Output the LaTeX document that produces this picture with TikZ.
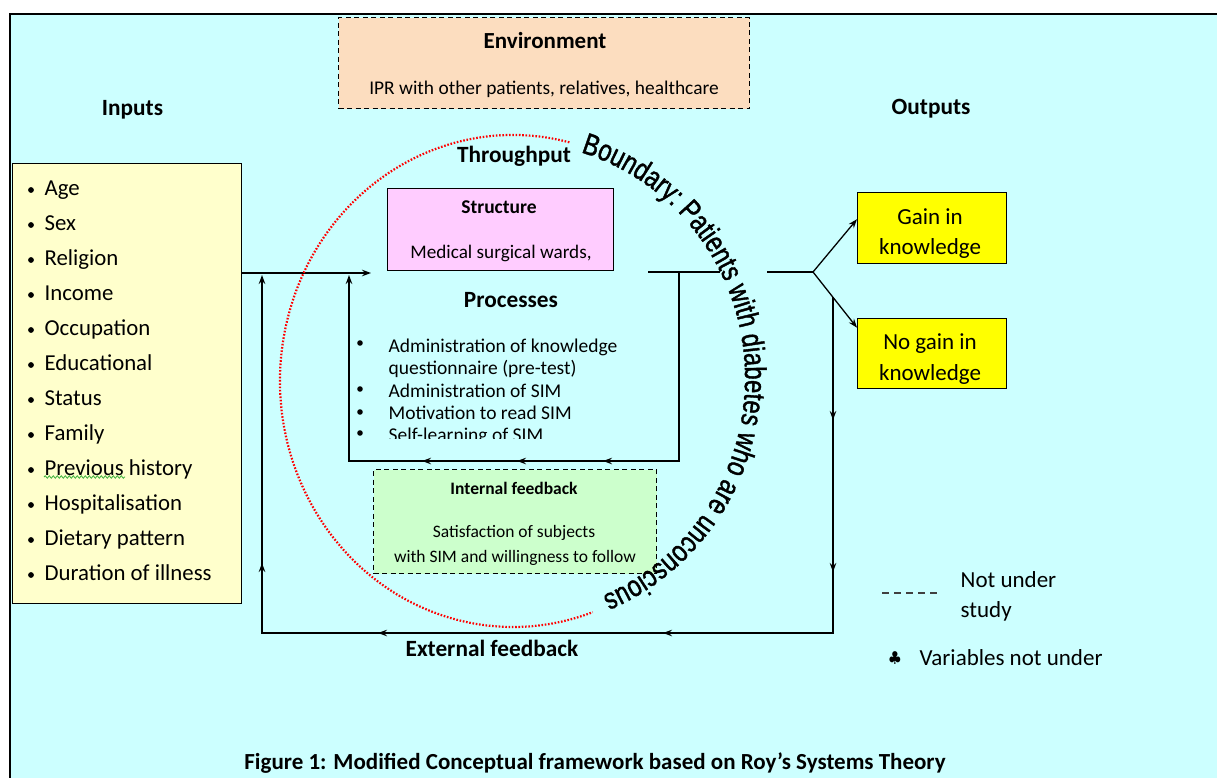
\documentclass[tikz,border=0pt]{standalone}
\usepackage{fontspec}
\setmainfont{Carlito}
\newfontfamily\boundfont[FakeStretch=0.79, FakeBold=1.3]{Liberation Sans}
\usetikzlibrary{arrows.meta,decorations.markings,decorations.text,decorations.pathmorphing}

\definecolor{bgcyan}{HTML}{CCFFFF}
\definecolor{envpeach}{HTML}{FCDDBF}
\definecolor{inyellow}{HTML}{FFFFCC}
\definecolor{structpink}{HTML}{FFCCFF}
\definecolor{fbgreen}{HTML}{CCFFCC}
\definecolor{gainyellow}{HTML}{FFFF00}
\definecolor{spellgreen}{HTML}{3DB03D}

\begin{document}
\begin{tikzpicture}[x=1pt, y=-1pt, line width=1.3pt,
    >={Stealth[length=9pt,width=6.5pt]},
    box/.style={draw, line width=1.4pt, anchor=north west, inner sep=0pt},
    dashbox/.style={box, dash pattern=on 5pt off 3.5pt},
    lbl/.style={inner sep=0pt, anchor=base, font=\fontsize{#1}{#1}\selectfont},
    blbl/.style={inner sep=0pt, anchor=base, font=\fontsize{#1}{#1}\selectfont\bfseries},
    arrowat/.style={postaction={decorate, decoration={markings,
        mark=at position #1 with {\arrow{>}}}}}]
        \useasboundingbox (0,0) rectangle (1217,778);

        % Page background and frame
        \fill[bgcyan] (10,14) rectangle (1217,778);
        \draw[line width=2pt] (10,778) -- (10,14) -- (1217,14);

        % Environment
        \node[dashbox, fill=envpeach, minimum width=411pt, minimum height=91pt] (env) at (338,17) {};
        \node[blbl=23] (envtitle) at (545,49) {Environment};
        \node[lbl=19.4] (envtext) at (544,95) {IPR with other patients, relatives, healthcare};

        % Column headings
        \node[blbl=23.3] (inputs) at (132.5,116) {Inputs};
        \node[blbl=23.3] (outputs) at (931,115) {Outputs};
        \node[blbl=23.3] (throughput) at (514,163) {Throughput};

        % Inputs box
        \node[box, fill=inyellow, minimum width=229pt, minimum height=440pt] (inbox) at (12,163) {};
        \foreach \t [count=\i from 0] in {Age, Sex, Religion, Income, Occupation, Educational,
            Status, Family, Previous history, Hospitalisation, Dietary pattern, Duration of illness} {
            \fill (31,{190+35*\i}) circle (2.9pt);
            \node[lbl=22.8, anchor=base west] (item\i) at (44,{195+35*\i}) {\t};
        }
        \draw[spellgreen, line width=0.8pt, decorate,
            decoration={snake, amplitude=1.2pt, segment length=4pt}] (44,477) -- (125,477);

        % Structure
        \node[box, fill=structpink, minimum width=226pt, minimum height=82pt] (structure) at (387,188) {};
        \node[blbl=19.5] (structtitle) at (499,213) {Structure};
        \node[lbl=19.2] (structtext) at (501,258) {Medical surgical wards,};

        % Processes
        \node[blbl=23.3] (processes) at (511,307) {Processes};
        \begin{scope}
            \clip (340,320) rectangle (670,438);
            \foreach \y in {343, 389, 412, 433} \fill (360,\y) circle (2.8pt);
            \foreach \t/\y [count=\i] in {Administration of knowledge/352, questionnaire (pre-test)/374,
                Administration of SIM/397, Motivation to read SIM/419, Self-learning of SIM/441}
                \node[lbl=19.5, anchor=base west] (proc\i) at (388,\y) {\t};
        \end{scope}

        % Internal feedback
        \node[dashbox, fill=fbgreen, minimum width=283pt, minimum height=104pt] (intfb) at (373,469) {};
        \node[blbl=17.5] (intfbtitle) at (514,494) {Internal feedback};
        \node[lbl=17.5] (intfbtext1) at (514,537) {Satisfaction of subjects};
        \node[lbl=17.5] (intfbtext2) at (515,562) {with SIM and willingness to follow};

        % Outputs
        \node[box, fill=gainyellow, minimum width=149pt, minimum height=71pt] (gain) at (857,192) {};
        \node[lbl=23] (gaintext1) at (930,224) {Gain in};
        \node[lbl=23] (gaintext2) at (930,254) {knowledge};
        \node[box, fill=gainyellow, minimum width=149pt, minimum height=70pt] (nogain) at (857,318) {};
        \node[lbl=23] (nogaintext1) at (930,349) {No gain in};
        \node[lbl=23] (nogaintext2) at (930,380) {knowledge};

        % Flow lines
        \coordinate (procin) at (371,273);
        \coordinate (procout) at (648,272);
        \coordinate (procend) at (720,272);
        \coordinate (loopR) at (679,272);
        \coordinate (loopB) at (349,461);
        \coordinate (loopT) at (349,275);
        \coordinate (outA) at (767,272);
        \coordinate (fork) at (813,272);
        \coordinate (extR) at (833,297);
        \coordinate (extL) at (262,633);
        \coordinate (extT) at (262,275);

        \draw[->] (inbox.east |- procin) -- (procin);
        \draw (procout) -- (procend);
        \draw[->, arrowat=265pt, arrowat=351pt, arrowat=446pt] (loopR) |- (loopB) -- (loopT);
        \draw (outA) -- (fork);
        \draw[->] (fork) -- ([yshift=9pt]gain.west);
        \draw[->] (fork) -- ([yshift=26pt]nogain.west);
        \draw[->, arrowat=123pt, arrowat=275pt, arrowat=506pt, arrowat=791pt, arrowat=977pt]
            (extR) |- (extL) -- (extT);

        \node[blbl=23.3] (extfb) at (492,656) {External feedback};

        % Boundary
        \draw[red, line width=2.2pt, dash pattern=on 1.6pt off 1.7pt, shift={(513,381)}]
            (-76:233 and 246) arc[start angle=-76, end angle=-290, x radius=233, y radius=246];
        \path[shift={(513,378)}, decorate, decoration={text along path, text align=left,
            text={|\boundfont\fontsize{30}{30}\selectfont|Boundary: Patients with diabetes who are unconscious}}]
            (-73:232 and 236) arc[start angle=-73, end angle=90, x radius=232, y radius=236];

        % Legend
        \coordinate (legA) at (882,593);
        \coordinate (legB) at (940,593);
        \draw[gray!50!black, line width=1.2pt, dash pattern=on 7pt off 5pt] (legA) -- (legB);
        \node[lbl=23, anchor=base west] (legdash1) at (960,587) {Not under};
        \node[lbl=23, anchor=base west] (legdash2) at (960,617) {study};
        \node[inner sep=0pt] (legclub) at (895,658) {\scalebox{1.5}{$\clubsuit$}};
        \node[lbl=23, anchor=base west] (legclubtext) at (919,665) {Variables not under};

        % Caption
        \node[blbl=23] (caption) at (595,769) {Figure 1: Modified Conceptual framework based on Roy’s Systems Theory};
    \end{tikzpicture}
\end{document}
